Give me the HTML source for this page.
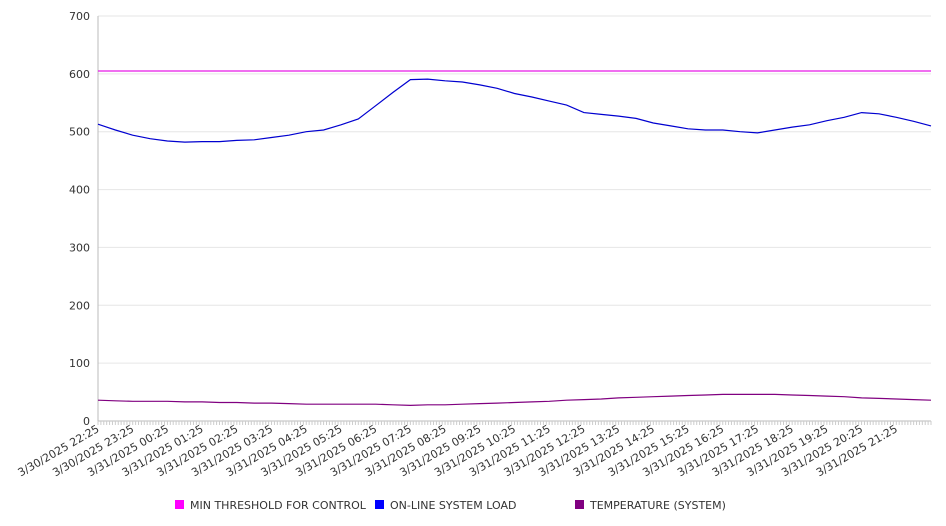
<!DOCTYPE html>
<html><head><meta charset="utf-8"><style>
html,body{margin:0;padding:0;background:#fff;width:946px;height:526px;overflow:hidden}
svg{font-family:"DejaVu Sans","Liberation Sans",sans-serif}
</style></head><body>
<svg id="c" width="946" height="526" xmlns="http://www.w3.org/2000/svg"></svg>
<script>
const yTicks=[0,100,200,300,400,500,600,700];
const xLabels=["3/30/2025 22:25","3/30/2025 23:25","3/31/2025 00:25","3/31/2025 01:25","3/31/2025 02:25","3/31/2025 03:25","3/31/2025 04:25","3/31/2025 05:25","3/31/2025 06:25","3/31/2025 07:25","3/31/2025 08:25","3/31/2025 09:25","3/31/2025 10:25","3/31/2025 11:25","3/31/2025 12:25","3/31/2025 13:25","3/31/2025 14:25","3/31/2025 15:25","3/31/2025 16:25","3/31/2025 17:25","3/31/2025 18:25","3/31/2025 19:25","3/31/2025 20:25","3/31/2025 21:25"];
// half-hour samples from 22:25 to 22:25 next day (49 points)
const loadValues=[513,503,494,488,484,482,483,483,485,486,490,494,500,503,512,522,545,568,590,591,588,586,581,575,566,560,553,546,533,530,527,523,515,510,505,503,503,500,498,503,508,512,519,525,533,531,525,518,510];
const tempValues=[36,35,34,34,34,33,33,32,32,31,31,30,29,29,29,29,29,28,27,28,28,29,30,31,32,33,34,36,37,38,40,41,42,43,44,45,46,46,46,46,45,44,43,42,40,39,38,37,36];
const thresholdValues=[605,605];
const X0=98,X1=931,Y0=421,Y1=16,VMAX=700,HOURS=24;
const sx=h=>X0+(X1-X0)*h/HOURS;
const sy=v=>Y0-(Y0-Y1)*v/VMAX;
const svg=document.getElementById('c');
const NS='http://www.w3.org/2000/svg';
function mk(t,a,p){const e=document.createElementNS(NS,t);for(const k in a)e.setAttribute(k,a[k]);(p||svg).appendChild(e);return e;}
yTicks.forEach(v=>{
  const g=mk('line',{x1:X0,x2:X1,y1:sy(v),y2:sy(v),stroke:v===0?'#bbb':'#e6e6e6','stroke-width':1});
  
  
  const t=mk('text',{x:X0-8,y:sy(v)+4,'text-anchor':'end','font-size':11,fill:'#333'});
  t.textContent=v;
  
  
});
const ax=mk('line',{x1:X0,x2:X0,y1:Y1,y2:Y0,stroke:'#bbb'});


for(let m=0;m<=HOURS*12;m++){
  const tk=mk('line',{x1:sx(m/12),x2:sx(m/12),y1:Y0,y2:Y0+4,stroke:'#ccc'});
  
  
}
xLabels.forEach((l,i)=>{
  const x=sx(i)+2,y=Y0+10;
  const t=mk('text',{x:x,y:y,'text-anchor':'end','font-size':11,fill:'#333',transform:`rotate(-30 ${x} ${y})`});
  t.textContent=l;
  
  
});
function line(vals,color,name){
  const n=vals.length-1;
  const d=vals.map((v,i)=>(i?'L':'M')+sx(i*HOURS/n).toFixed(1)+','+sy(v).toFixed(1)).join('');
  const p=mk('path',{d:d,fill:'none',stroke:color,'stroke-width':1.2});
  
  
}
line(thresholdValues,'#e619e6','threshold-line');
line(loadValues,'#0000d0','load-line');
line(tempValues,'#800080','temperature-line');
const legend=[["MIN THRESHOLD FOR CONTROL","#ff00ff",175],["ON-LINE SYSTEM LOAD","#0000ff",375],["TEMPERATURE (SYSTEM)","#800080",575]];
legend.forEach(([l,c,x])=>{
  const g=mk('g',{});
  
  
  mk('rect',{x:x,y:500,width:9,height:9,fill:c},g);
  const t=mk('text',{x:x+15,y:509,'font-size':11,fill:'#333'},g);
  t.textContent=l;
});
</script>
</body></html>
